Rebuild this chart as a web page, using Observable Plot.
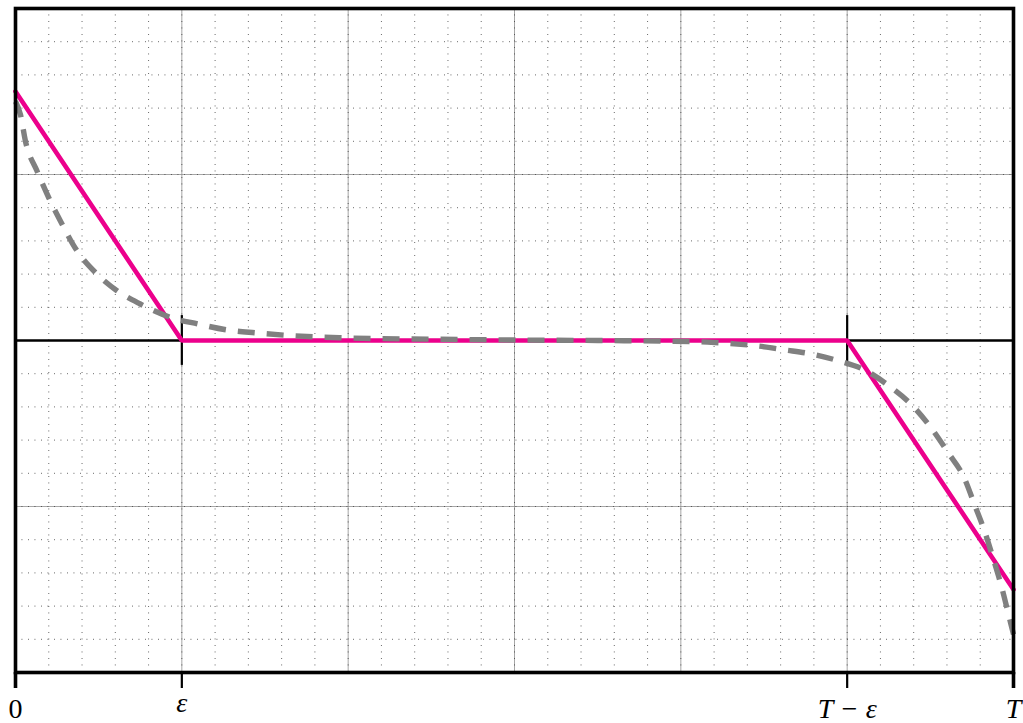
<!DOCTYPE html>
<html>
<head>
<meta charset="utf-8">
<script src="https://cdn.jsdelivr.net/npm/d3@7"></script>
<script src="https://cdn.jsdelivr.net/npm/@observablehq/plot@0.6"></script>
<style>
  html, body { margin: 0; padding: 0; background: #fff; overflow: hidden; }
  svg { display: block; }
  svg text { font-family: "Liberation Serif", "DejaVu Serif", serif !important; }
</style>
</head>
<body>
<script>
// Piecewise-linear (magenta) profile
const pinkT = [0, 1, 5, 6];
const pinkY = [1.5, 0, 0, -1.5];

// Smooth (gray dashed) profile
const grayT = [0, 0.03, 0.06, 0.13, 0.20, 0.27, 0.37, 0.49, 0.61, 0.75, 0.93, 1.095, 1.27, 1.445, 1.62, 1.80, 1.97, 2.5, 3.0, 3.5, 3.91, 4.16, 4.32, 4.47, 4.62, 4.78, 4.94, 5.11, 5.26, 5.39, 5.50, 5.61, 5.70, 5.77, 5.83, 5.88, 5.93, 5.97, 6.0];
const grayY = [1.44, 1.36, 1.2, 1.02, 0.86, 0.72, 0.54, 0.40, 0.30, 0.22, 0.14, 0.10, 0.064, 0.046, 0.032, 0.022, 0.016, 0.008, 0.003, 0.0, -0.004, -0.01, -0.02, -0.034, -0.056, -0.08, -0.12, -0.18, -0.28, -0.39, -0.52, -0.68, -0.82, -1.0, -1.16, -1.32, -1.49, -1.65, -1.77];

// Axis ticks and labels
const tickValues = [0, 1, 5, 6];
const tickLabels = ["0", "ε", "T − ε", "T"];
const innerTicks = [1, 5];
const xMajor = [0, 1, 2, 3, 4, 5, 6];
const yMajor = [-2, -1, 0, 1, 2];
const xMinor = d3.range(0, 31).map(i => i / 5);
const yMinor = d3.range(-10, 11).map(i => i / 5);

const pink = pinkT.map((t, i) => ({t, y: pinkY[i]}));
const gray = grayT.map((t, i) => ({t, y: grayY[i]}));
const labels = tickValues.map((x, i) => ({x, label: tickLabels[i]}));

const font = "Liberation Serif";

const chart = Plot.plot({
  width: 1023,
  height: 723,
  marginLeft: 15,
  marginRight: 10,
  marginTop: 8,
  marginBottom: 51,
  x: {domain: [0, 6], axis: null},
  y: {domain: [-2, 2], axis: null},
  style: {background: "white", fontFamily: font},
  marks: [
    Plot.ruleX(xMajor, {stroke: "#888", strokeWidth: 0.75}),
    Plot.ruleY(yMajor, {stroke: "#888", strokeWidth: 0.75}),
    Plot.ruleX(xMinor, {stroke: "#444", strokeWidth: 0.9, strokeDasharray: "0.9,5.6"}),
    Plot.ruleY(yMinor, {stroke: "#444", strokeWidth: 0.9, strokeDasharray: "0.9,5.6"}),
    Plot.ruleY([0], {stroke: "black", strokeWidth: 2.5}),
    Plot.ruleX(innerTicks, {y1: -0.15, y2: 0.15, stroke: "black", strokeWidth: 2.2}),
    Plot.axisX(innerTicks, {tickSize: 16, tickFormat: () => "", strokeWidth: 2.2, stroke: "black"}),
    Plot.axisX([0, 6], {tickSize: 16, tickFormat: () => "", strokeWidth: 3.6, stroke: "black"}),
    Plot.line(pink, {x: "t", y: "y", stroke: "#ec008c", strokeWidth: 4.6, strokeLinejoin: "miter"}),
    Plot.line(gray, {x: "t", y: "y", stroke: "#808080", strokeWidth: 5.4, strokeDasharray: "17,12", curve: "monotone-x", strokeLinecap: "butt"}),
    Plot.frame({stroke: "black", strokeWidth: 3.6}),
    Plot.text(labels, {filter: d => d.label === "0", x: "x", text: "label", frameAnchor: "bottom", dy: 45, lineAnchor: "bottom", fontSize: 28, fontFamily: font, fill: "black"}),
    Plot.text(labels, {filter: d => d.label === "ε", x: "x", text: "label", frameAnchor: "bottom", dy: 39, lineAnchor: "bottom", fontSize: 28, fontFamily: font, fontStyle: "italic", fill: "black"}),
    Plot.text(labels, {filter: d => d.label !== "0" && d.label !== "ε", x: "x", text: "label", frameAnchor: "bottom", dy: 45, lineAnchor: "bottom", fontSize: 28, fontFamily: font, fontStyle: "italic", fill: "black"})
  ]
});
document.body.appendChild(chart);
</script>
</body>
</html>
